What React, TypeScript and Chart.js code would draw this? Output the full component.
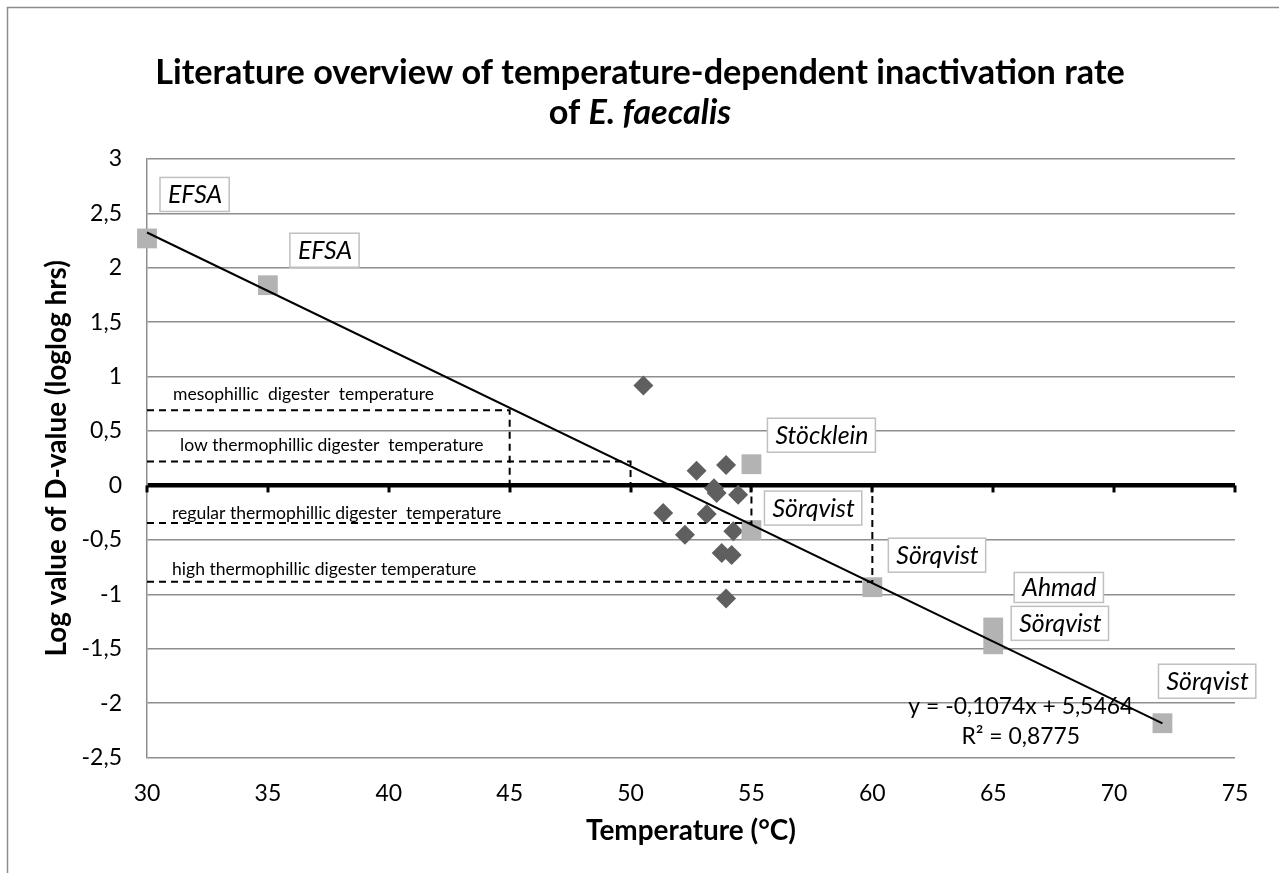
import React, { useEffect, useRef } from 'react';
import { Chart, registerables } from 'chart.js';

Chart.register(...registerables);

const FAMILY = "Lato, 'Open Sans', 'DejaVu Sans', sans-serif";

// Axis ranges / ticks
const xMin = 30;
const xMax = 75;
const xStep = 5;
const yMin = -2.5;
const yMax = 3;
const yStep = 0.5;

// Literature values (grey squares)
const literatureTemps = [30, 35, 55, 55, 60, 65, 65, 72];
const literatureLogD = [2.27, 1.84, 0.195, -0.41, -0.935, -1.305, -1.46, -2.185];
const literatureSources = ['EFSA', 'EFSA', 'Stöcklein', 'Sörqvist', 'Sörqvist', 'Ahmad', 'Sörqvist', 'Sörqvist'];

// Measured values (dark diamonds)
const measuredTemps = [50.53, 52.73, 53.95, 53.45, 53.56, 54.45, 51.35, 53.15, 52.25, 54.25, 53.77, 54.18, 53.95];
const measuredLogD = [0.918, 0.136, 0.189, -0.026, -0.069, -0.085, -0.253, -0.262, -0.453, -0.421, -0.621, -0.639, -1.038];

// Linear trend line
const trendSlope = -0.1074;
const trendIntercept = 5.5464;
const trendR2 = 0.8775;
const trendTemps = [30, 72];

// Digester temperature reference lines
const refNames = [
  'mesophillic  digester  temperature',
  'low thermophillic digester  temperature',
  'regular thermophillic digester  temperature',
  'high thermophillic digester temperature',
];
const refTemps = [45, 50, 55, 60];
const refLogD = [0.69, 0.22, -0.345, -0.885];

const fmt = (v: number) => String(Math.round(v * 10) / 10).replace('.', ',');

function fmtNum(v: number) {
  return String(v).replace('.', ',');
}

function fitSize(ctx: CanvasRenderingContext2D, text: string, style: string, target: number) {
  ctx.font = `${style} 100px ${FAMILY}`;
  const w = ctx.measureText(text).width;
  return (100 * target) / w;
}

const overlayPlugin = {
  id: 'overlay',
  beforeDraw(chart: any) {
    const ctx = chart.ctx as CanvasRenderingContext2D;
    ctx.save();
    ctx.fillStyle = '#ffffff';
    ctx.fillRect(0, 0, chart.width, chart.height);
    ctx.strokeStyle = '#8c8c8c';
    ctx.lineWidth = 1.5;
    ctx.strokeRect(7.5, 7.5, chart.width + 40, chart.height + 40);
    ctx.restore();
  },
  beforeDatasetsDraw(chart: any) {
    const ctx = chart.ctx as CanvasRenderingContext2D;
    const xs = chart.scales.x;
    const ys = chart.scales.y;
    const y0 = ys.getPixelForValue(0);
    ctx.save();
    ctx.strokeStyle = '#000';
    ctx.lineWidth = 3;
    for (let v = xMin; v <= xMax; v += xStep) {
      const px = Math.round(xs.getPixelForValue(v));
      ctx.beginPath();
      ctx.moveTo(px, y0);
      ctx.lineTo(px, y0 + 7);
      ctx.stroke();
    }
    // reference labels
    const refSize = fitSize(ctx, 'regular thermophillic digester temperature', 'normal', 325);
    ctx.font = `normal ${refSize}px ${FAMILY}`;
    ctx.fillStyle = '#000';
    ctx.textBaseline = 'middle';
    ctx.textAlign = 'left';
    const refLabelPos = [
      { x: 173, dy: -16 },
      { x: 180, dy: -16 },
      { x: 172, dy: -10 },
      { x: 172, dy: -12 },
    ];
    refNames.forEach((name, i) => {
      const py = ys.getPixelForValue(refLogD[i]) + refLabelPos[i].dy;
      ctx.fillText(name, refLabelPos[i].x, py);
    });
    ctx.restore();
  },
  afterDatasetsDraw(chart: any) {
    const ctx = chart.ctx as CanvasRenderingContext2D;
    const xs = chart.scales.x;
    const ys = chart.scales.y;
    ctx.save();
    // boxed source labels
    const boxOffsets = [
      { dx: 13, dy: -44 },
      { dx: 22, dy: -35 },
      { dx: 16, dy: -29 },
      { dx: 13, dy: -22 },
      { dx: 16, dy: -32 },
      { dx: 21, dy: -40 },
      { dx: 18, dy: -21 },
      { dx: -4, dy: -42 },
    ];
    const labSize = fitSize(ctx, 'Stöcklein', 'italic', 93);
    ctx.font = `italic ${labSize}px ${FAMILY}`;
    ctx.textBaseline = 'middle';
    ctx.textAlign = 'left';
    literatureSources.forEach((name, i) => {
      const px = xs.getPixelForValue(literatureTemps[i]) + boxOffsets[i].dx;
      const py = ys.getPixelForValue(literatureLogD[i]) + boxOffsets[i].dy;
      const w = ctx.measureText(name).width + 15;
      const h = name === 'Ahmad' ? 30 : 34;
      ctx.fillStyle = '#ffffff';
      ctx.fillRect(px, py - h / 2, w, h);
      ctx.strokeStyle = '#c0c0c0';
      ctx.lineWidth = 1.5;
      ctx.strokeRect(px, py - h / 2, w, h);
      ctx.fillStyle = '#000';
      ctx.fillText(name, px + 8, py + 1);
    });
    // trend equation
    const eq = `y = ${fmtNum(trendSlope)}x + ${fmtNum(trendIntercept)}`;
    const eqSize = fitSize(ctx, eq, 'normal', 225);
    ctx.font = `normal ${eqSize}px ${FAMILY}`;
    ctx.textAlign = 'center';
    ctx.fillStyle = '#000';
    const ex = xs.getPixelForValue(66.14);
    ctx.fillText(eq, ex, ys.getPixelForValue(-2.03));
    ctx.fillText(`R² = ${fmtNum(trendR2)}`, ex, ys.getPixelForValue(-2.31));
    ctx.restore();
  },
  afterDraw(chart: any) {
    const ctx = chart.ctx as CanvasRenderingContext2D;
    const area = chart.chartArea;
    ctx.save();
    ctx.fillStyle = '#000';
    ctx.textBaseline = 'alphabetic';
    // title
    const line1 = 'Literature overview of temperature-dependent inactivation rate';
    const tSize = fitSize(ctx, line1, 'bold', 970);
    ctx.font = `bold ${tSize}px ${FAMILY}`;
    ctx.textAlign = 'center';
    ctx.fillText(line1, 640, 84);
    const p1 = 'of ';
    const p2 = 'E. faecalis';
    ctx.font = `bold ${tSize}px ${FAMILY}`;
    const w1 = ctx.measureText(p1).width;
    ctx.font = `italic bold ${tSize}px ${FAMILY}`;
    const w2 = ctx.measureText(p2).width;
    const sx = 640 - (w1 + w2) / 2;
    ctx.textAlign = 'left';
    ctx.font = `bold ${tSize}px ${FAMILY}`;
    ctx.fillText(p1, sx, 124);
    ctx.font = `italic bold ${tSize}px ${FAMILY}`;
    ctx.fillText(p2, sx + w1, 124);
    // axis titles
    const xt = 'Temperature (°C)';
    const aSize = fitSize(ctx, xt, 'bold', 210);
    ctx.font = `bold ${aSize}px ${FAMILY}`;
    ctx.textAlign = 'center';
    ctx.fillText(xt, (area.left + area.right) / 2, 840);
    ctx.translate(66, (area.top + area.bottom) / 2);
    ctx.rotate(-Math.PI / 2);
    ctx.fillText('Log value of D-value (loglog hrs)', 0, 0);
    ctx.restore();
  },
};

export default function App() {
  const ref = useRef<HTMLCanvasElement | null>(null);
  useEffect(() => {
    if (!ref.current) return;
    const refDatasets = refTemps.map((t, i) => ({
      type: 'line' as const,
      label: refNames[i],
      data: [
        { x: xMin, y: refLogD[i] },
        { x: t, y: refLogD[i] },
        { x: t, y: 0 },
      ],
      showLine: true,
      borderColor: '#000',
      borderWidth: 2,
      borderDash: [7, 5],
      pointRadius: 0,
      fill: false,
      tension: 0,
      clip: false,
      order: 1,
    }));
    const chart = new Chart(ref.current, {
      type: 'scatter',
      data: {
        datasets: [
          ...refDatasets,
          {
            type: 'line',
            label: 'trend',
            data: trendTemps.map((t) => ({ x: t, y: trendSlope * t + trendIntercept })),
            showLine: true,
            borderColor: '#000',
            borderWidth: 2,
            pointRadius: 0,
            fill: false,
            clip: false,
            order: 2,
          },
          {
            label: 'literature',
            data: literatureTemps.map((t, i) => ({ x: t, y: literatureLogD[i] })),
            pointStyle: 'rect',
            pointRadius: 14,
            backgroundColor: '#b3b3b3',
            borderWidth: 0,
            clip: false,
            order: 3,
          },
          {
            label: 'measured',
            data: measuredTemps.map((t, i) => ({ x: t, y: measuredLogD[i] })),
            pointStyle: 'rectRot',
            pointRadius: 10,
            backgroundColor: '#5f5f5f',
            borderWidth: 0,
            clip: false,
            order: 4,
          },
        ] as any,
      },
      options: {
        responsive: false,
        animation: false,
        devicePixelRatio: 1,
        layout: { padding: { left: 0, top: 159, right: 44, bottom: 0 } },
        plugins: {
          legend: { display: false },
          tooltip: { enabled: false },
          title: { display: false },
        },
        scales: {
          x: {
            type: 'linear',
            min: xMin,
            max: xMax,
            ticks: {
              stepSize: xStep,
              padding: 22,
              color: '#000',
              font: { family: FAMILY, size: 23 },
              maxRotation: 0,
            },
            grid: { display: false, drawTicks: false },
            border: { display: false },
            afterFit: (s: any) => {
              s.height = 873 - 757.5;
            },
          },
          y: {
            type: 'linear',
            min: yMin,
            max: yMax,
            ticks: {
              stepSize: yStep,
              padding: 25,
              color: '#000',
              font: { family: FAMILY, size: 23 },
              callback: (v: any) => fmt(Number(v)),
            },
            grid: {
              drawTicks: false,
              color: (c: any) => (c.tick && c.tick.value === 0 ? '#000' : '#8e8e8e'),
              lineWidth: (c: any) => (c.tick && c.tick.value === 0 ? 4.5 : 1.5),
            },
            border: { display: true, color: '#8e8e8e', width: 1.5 },
            afterFit: (s: any) => {
              s.width = 147;
            },
          },
        },
      },
      plugins: [overlayPlugin],
    });
    return () => chart.destroy();
  }, []);
  return (
    <div style={{ position: 'absolute', left: 0, top: 0, width: 1279, height: 873 }}>
      <canvas ref={ref} width={1279} height={873} style={{ width: 1279, height: 873, display: 'block' }} />
    </div>
  );
}
